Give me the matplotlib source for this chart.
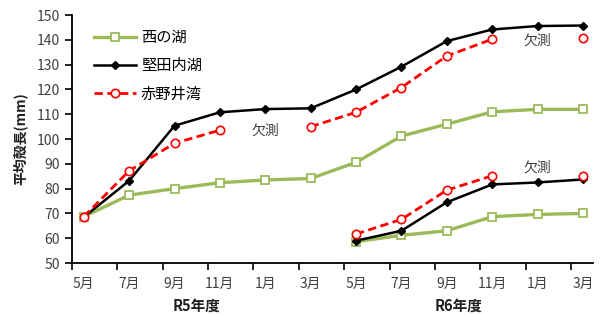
import numpy as np
import matplotlib.pyplot as plt

plt.rcParams['font.family'] = ['Noto Sans CJK JP', 'DejaVu Sans']

months = ['5月', '7月', '9月', '11月', '1月', '3月', '5月', '7月', '9月', '11月', '1月', '3月']
nan = np.nan

# 1st cohort (R5 5月 start)
nishinoko = [68.7, 77.4, 80.0, 82.4, 83.5, 84.1, 90.6, 101.2, 106.0, 111.0, 112.0, 112.0]
katata = [68.5, 83.2, 105.4, 110.8, 112.1, 112.4, 120.0, 129.2, 139.5, 144.2, 145.6, 145.8]
akanoi = [68.7, 87.2, 98.3, 103.6, nan, 105.0, 110.8, 120.8, 133.5, 140.3, nan, 140.9]

# 2nd cohort (R6 5月 start)
nishinoko2 = [nan] * 6 + [58.6, 61.2, 63.0, 68.7, 69.6, 70.0]
katata2 = [nan] * 6 + [59.0, 63.0, 74.5, 81.7, 82.5, 83.7]
akanoi2 = [nan] * 6 + [61.7, 67.6, 79.4, 85.2, nan, 85.2]

x = np.arange(len(months))
green = '#9BBB59'
red = '#FF0000'

fig = plt.figure(figsize=(6.05, 3.15), dpi=100)
ax = fig.add_axes([0.119, 0.165, 0.861, 0.787])

for i, (g, k, a) in enumerate([(nishinoko, katata, akanoi), (nishinoko2, katata2, akanoi2)]):
    ax.plot(x, g, color=green, lw=2.4, marker='s', ms=6, mfc='white', mec=green, mew=1.3,
            label='西の湖' if i == 0 else None, zorder=2)
    ax.plot(x, k, color='black', lw=1.8, marker='D', ms=4, mfc='black', mec='black',
            label='堅田内湖' if i == 0 else None, zorder=3)
    ax.plot(x, a, color=red, lw=2.0, ls=(0, (3, 1.6)), marker='o', ms=6, mfc='white', mec=red, mew=1.2,
            label='赤野井湾' if i == 0 else None, zorder=4)

ax.set_ylim(50, 150)
ax.set_xlim(-0.26, 11.22)
ax.set_yticks(range(50, 151, 10))
ax.set_xticks(x)
ax.set_xticklabels(months)
ax.set_xticks(x - 0.26, minor=True)
ax.tick_params(axis='x', which='major', length=0, pad=10, labelsize=10, labelcolor='#404040')
ax.tick_params(axis='x', which='minor', length=5, width=1.2)
ax.tick_params(axis='y', length=5, width=1.2, labelsize=10, labelcolor='#404040')
for s in ['top', 'right']:
    ax.spines[s].set_visible(False)
for s in ['left', 'bottom']:
    ax.spines[s].set_linewidth(1.3)

ax.set_ylabel('平均殻長(mm)', fontsize=10, fontweight='bold', color='#202020', labelpad=6)

ax.text(2.48, -0.17, 'R5年度', transform=ax.get_xaxis_transform(), ha='center', va='center',
        fontsize=10.5, fontweight='bold', color='#202020')
ax.text(8.25, -0.17, 'R6年度', transform=ax.get_xaxis_transform(), ha='center', va='center',
        fontsize=10.5, fontweight='bold', color='#202020')

for xx, yy in [(4, 103.5), (10, 139.5), (10, 88.5)]:
    ax.text(xx, yy, '欠測', ha='center', va='center', fontsize=10, color='#404040')

ax.legend(loc='upper left', bbox_to_anchor=(0.015, 1.0), frameon=False, fontsize=11,
          handlelength=2.8, labelspacing=0.75, handletextpad=0.3)

fig.savefig('out.png', dpi=100)
